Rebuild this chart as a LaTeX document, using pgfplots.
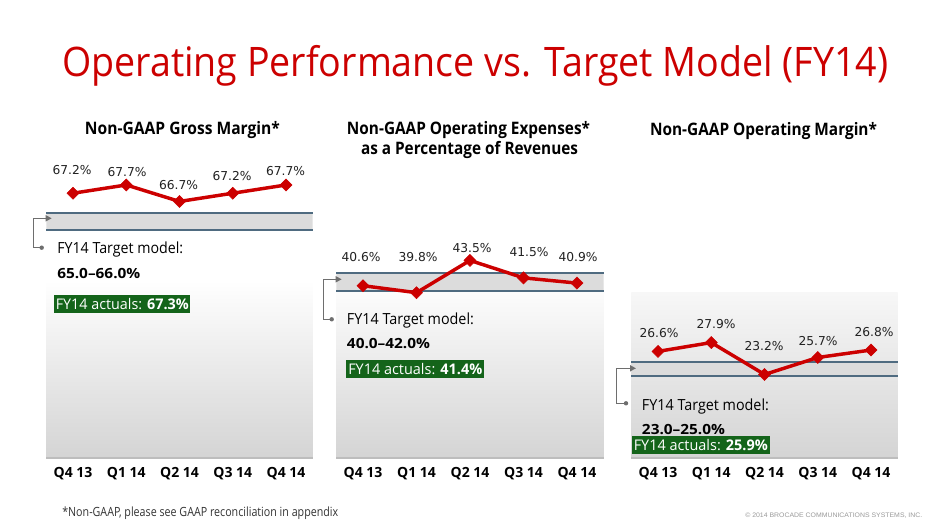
\documentclass[border=0pt]{standalone}
\usepackage{graphicx}
\usepackage{fontspec}
\setmainfont{Open Sans}
\newfontfamily\dv{DejaVu Sans}
\newfontfamily\ls{Liberation Sans}
\usepackage{pgfplots}
\pgfplotsset{compat=1.18}
\usetikzlibrary{arrows.meta}

\definecolor{brred}{HTML}{CC0000}
\definecolor{bandfill}{HTML}{DCDCDC}
\definecolor{bandline}{HTML}{4F6B80}
\definecolor{actgreen}{HTML}{14641A}
\definecolor{brkgray}{HTML}{6E6E6E}
\definecolor{lbl}{HTML}{222222}
\definecolor{g0}{HTML}{D4D4D4}
\definecolor{g2}{HTML}{EDEDED}
\definecolor{g3}{HTML}{F7F7F7}
\definecolor{botline}{HTML}{BDBDBD}

\newdimen\pxu \pxu=0.75pt
\newcommand\fit[2]{\resizebox{#1\pxu}{\height}{#2}}

\pgfplotsset{
  panel/.style={
    scale only axis, anchor=south west,
    xmin=-0.5, xmax=4.5,
    xtick={0,1,2,3,4},
    xticklabels={Q4 13,Q1 14,Q2 14,Q3 14,Q4 14},
    ytick=\empty,
    major tick length=0pt,
    tick style={draw=none},
    axis line style={draw=none},
    clip=false,
    xticklabel style={font=\bfseries\fontsize{10.5pt}{10.5pt}\selectfont, text=black, anchor=base, yshift=-15pt, inner sep=0pt},
  },
  band/.style={bandline, line width=1.5pt},
  series/.style={brred, line width=2.6pt, mark=square*, mark size=3.2pt,
    mark options={rotate=45, fill=brred, draw=brred, line width=0.4pt, solid}},
}

\tikzset{
  t/.style={inner sep=0pt, anchor=base west},
  dl/.style={inner sep=0pt, anchor=base, text=lbl, font=\dv\fontsize{9.2pt}{9.2pt}\selectfont},
  pt/.style={inner sep=0pt, anchor=base, text=black},
  brkline/.style={draw=brkgray, line width=1.1pt},
}

\begin{document}
\begin{tikzpicture}[x=0.75pt,y=0.75pt]
\fill[white] (0,0) rectangle (940,528);
\path[use as bounding box] (0,0) rectangle (940,528);

% ---------- Panel 1 ----------
\begin{axis}[panel, at={(34.8pt,52.5pt)}, width=199.7pt, height=231pt,
  ymin=51.15, ymax=69.82]
\fill[bottom color=g0, middle color=g2, top color=white] (rel axis cs:0,0) rectangle (rel axis cs:1,0.578);
\addplot[fill=bandfill, draw=none] coordinates {(-0.5,65) (4.5,65) (4.5,66) (-0.5,66) (-0.5,65)};
\addplot[band] coordinates {(-0.5,66) (4.5,66)};
\addplot[band] coordinates {(-0.5,65) (4.5,65)};
\addplot[series] coordinates {(0,67.2) (1,67.7) (2,66.7) (3,67.2) (4,67.7)};
\draw[botline, line width=2pt] (rel axis cs:0,0) -- (rel axis cs:1,0);
\end{axis}

% ---------- Panel 2 ----------
\begin{axis}[panel, at={(252.19pt,52.5pt)}, width=200.6pt, height=193.5pt,
  ymin=20.84, ymax=50.43]
\fill[bottom color=g0, middle color=g2, top color=white] (rel axis cs:0,0) rectangle (rel axis cs:1,0.690);
\addplot[fill=bandfill, draw=none] coordinates {(-0.5,40) (4.5,40) (4.5,42) (-0.5,42) (-0.5,40)};
\addplot[band] coordinates {(-0.5,42) (4.5,42)};
\addplot[band] coordinates {(-0.5,40) (4.5,40)};
\addplot[series] coordinates {(0,40.6) (1,39.8) (2,43.5) (3,41.5) (4,40.9)};
\draw[botline, line width=2pt] (rel axis cs:0,0) -- (rel axis cs:1,0);
\end{axis}

% ---------- Panel 3 ----------
\begin{axis}[panel, at={(473.55pt,52.5pt)}, width=199.7pt, height=123.75pt,
  ymin=10.90, ymax=35.20]
\fill[bottom color=g0, middle color=g2, top color=g3] (rel axis cs:0,0) rectangle (rel axis cs:1,1);
\addplot[fill=bandfill, draw=none] coordinates {(-0.5,23) (4.5,23) (4.5,25) (-0.5,25) (-0.5,23)};
\addplot[band] coordinates {(-0.5,25) (4.5,25)};
\addplot[band] coordinates {(-0.5,23) (4.5,23)};
\addplot[series] coordinates {(0,26.6) (1,27.9) (2,23.2) (3,25.7) (4,26.8)};
\draw[botline, line width=2pt] (rel axis cs:0,0) -- (rel axis cs:1,0);
\end{axis}

% ---------- Title ----------
\node[t, text=brred] at (62,451) {\fit{826}{\fontsize{30.5pt}{30.5pt}\selectfont Operating Performance vs. Target Model (FY14)}};

% ---------- Panel titles ----------
\node[pt] at (182.5,393) {\fit{195}{\bfseries\fontsize{12.9pt}{12.9pt}\selectfont Non-GAAP Gross Margin*}};
\node[pt] at (468.5,393) {\fit{243}{\bfseries\fontsize{12.9pt}{12.9pt}\selectfont Non-GAAP Operating Expenses*}};
\node[pt] at (469.5,373) {\fit{217}{\bfseries\fontsize{12.9pt}{12.9pt}\selectfont as a Percentage of Revenues}};
\node[pt] at (763.5,392) {\fit{227}{\bfseries\fontsize{12.9pt}{12.9pt}\selectfont Non-GAAP Operating Margin*}};

% ---------- Data labels ----------
\node[dl] at (72,353) {67.2\%};
\node[dl] at (127,351.3) {67.7\%};
\node[dl] at (178.5,338) {66.7\%};
\node[dl] at (232,347.3) {67.2\%};
\node[dl] at (285.5,352.3) {67.7\%};

\node[dl] at (361,266.3) {40.6\%};
\node[dl] at (418,266.3) {39.8\%};
\node[dl] at (472,275.3) {43.5\%};
\node[dl] at (529,271.3) {41.5\%};
\node[dl] at (578,266.3) {40.9\%};

\node[dl] at (659,190.3) {26.6\%};
\node[dl] at (716,199) {27.9\%};
\node[dl] at (764,177.3) {23.2\%};
\node[dl] at (818,182) {25.7\%};
\node[dl] at (874,191.3) {26.8\%};

% ---------- Brackets ----------
\draw[brkline, -{Triangle[length=4.5pt, width=4.5pt]}] (41.7,280.3) -- (33.3,280.3) -- (33.3,309.7) -- (51.7,309.7);
\fill[brkgray] (41.7,280.3) circle (2.2);
\draw[brkline, -{Triangle[length=4.5pt, width=4.5pt]}] (331.7,208.7) -- (323.3,208.7) -- (323.3,248.7) -- (341.7,248.7);
\fill[brkgray] (331.7,208.7) circle (2.2);
\draw[brkline, -{Triangle[length=4.5pt, width=4.5pt]}] (626,124.7) -- (616.7,124.7) -- (616.7,159.7) -- (636,159.7);
\fill[brkgray] (626,124.7) circle (2.2);

% ---------- Target model texts ----------
\node[t] at (57,274) {\fit{126}{\fontsize{11.5pt}{11.5pt}\selectfont FY14 Target model:}};
\node[t] at (57,249.7) {\fit{83}{\bfseries\fontsize{10.5pt}{10.5pt}\selectfont 65.0–66.0\%}};
\node[t] at (346.7,203) {\fit{127}{\fontsize{11.5pt}{11.5pt}\selectfont FY14 Target model:}};
\node[t] at (346.7,179) {\fit{83}{\bfseries\fontsize{10.5pt}{10.5pt}\selectfont 40.0–42.0\%}};
\node[t] at (641.7,117) {\fit{127}{\fontsize{11.5pt}{11.5pt}\selectfont FY14 Target model:}};
\node[t] at (641.7,93.7) {\fit{83}{\bfseries\fontsize{10.5pt}{10.5pt}\selectfont 23.0–25.0\%}};

% ---------- Actuals boxes ----------
\node[fill=actgreen, text=white, inner sep=0pt, anchor=south west, minimum width=102pt, minimum height=13.5pt]
  at (54,214.7) {\fit{133}{\fontsize{11pt}{11pt}\selectfont FY14 actuals: \textbf{67.3\%}}};
\node[fill=actgreen, text=white, inner sep=0pt, anchor=south west, minimum width=103.5pt, minimum height=13.2pt]
  at (346,149.7) {\fit{134}{\fontsize{11pt}{11pt}\selectfont FY14 actuals: \textbf{41.4\%}}};
\node[fill=actgreen, text=white, inner sep=0pt, anchor=south west, minimum width=103.2pt, minimum height=13.5pt]
  at (631.7,74) {\fit{134}{\fontsize{11pt}{11pt}\selectfont FY14 actuals: \textbf{25.9\%}}};

% ---------- Footnotes ----------
\node[t, text=black!80] at (62,11) {\fit{276}{\fontsize{9.5pt}{9.5pt}\selectfont *Non-GAAP, please see GAAP reconciliation in appendix}};
\node[t, text=black!40] at (745,10.7) {\fit{177}{\ls\fontsize{4.9pt}{4.9pt}\selectfont © 2014 BROCADE COMMUNICATIONS SYSTEMS, INC.}};
\end{tikzpicture}
\end{document}
